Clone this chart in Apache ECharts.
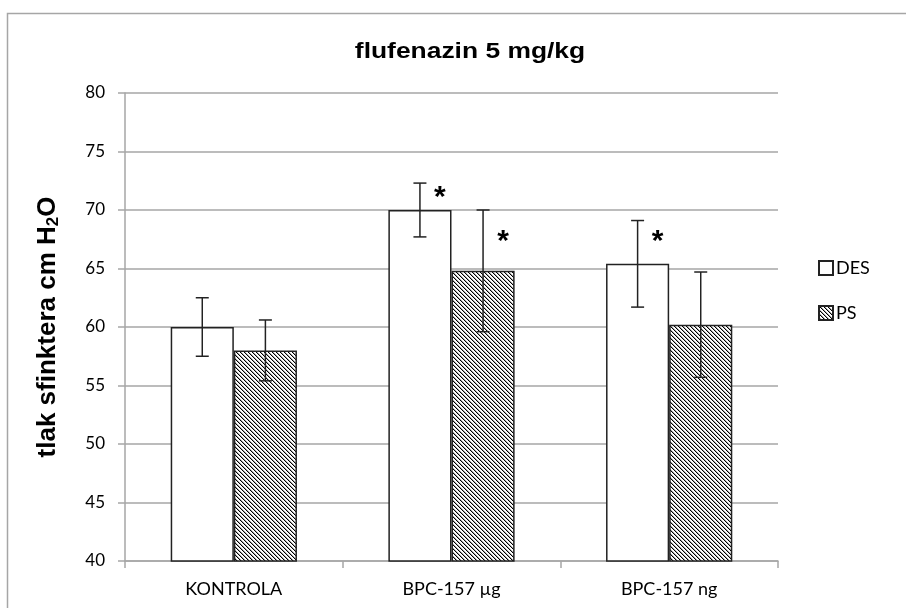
<!DOCTYPE html>
<html><head><meta charset="utf-8">
<script src="https://cdn.jsdelivr.net/npm/echarts@6/dist/echarts.min.js"></script>
<style>html,body{margin:0;padding:0;background:#fff}#c{width:906px;height:608px}</style>
</head><body><div id="c"></div>
<script>
const categories = ['KONTROLA', 'BPC-157 µg', 'BPC-157 ng'];
const desValues = [60.0, 70.0, 65.4];
const desErrors = [2.5, 2.3, 3.7];
const psValues = [58.0, 64.8, 60.2];
const psErrors = [2.6, 5.2, 4.5];
// significance marks: [category index, series index (0 DES, 1 PS), value level]
const stars = [[1, 0, 71.45], [1, 1, 67.7], [2, 0, 67.7]];
const yTicks = [40, 45, 50, 55, 60, 65, 70, 75, 80];

function hatch() {
  const c = document.createElement('canvas');
  c.width = 4; c.height = 4;
  const g = c.getContext('2d');
  g.fillStyle = '#fff'; g.fillRect(0, 0, 4, 4);
  for (let i = 0; i < 4; i++) {
    g.fillStyle = '#000'; g.fillRect(i, i, 1, 1);
    g.fillStyle = '#a8a8a8'; g.fillRect((i + 1) % 4, i, 1, 1);
  }
  return c;
}
const BARW = 0.29;
const chart = echarts.init(document.getElementById('c'));
function errSeries(vals, errs, side) {
  return {
    type: 'custom', silent: true, z: 5,
    data: vals.map((v, i) => [i, v, errs[i]]),
    renderItem: function (params, api) {
      const cat = api.value(0), v = api.value(1), e = api.value(2);
      const band = api.size([1, 0])[0];
      const x = api.coord([cat, v])[0] + side * band * BARW / 2;
      const yt = api.coord([cat, v + e])[1];
      const yb = api.coord([cat, v - e])[1];
      const st = { stroke: '#222', lineWidth: 1.5 };
      return { type: 'group', children: [
        { type: 'line', shape: { x1: x, y1: yt, x2: x, y2: yb }, style: st },
        { type: 'line', shape: { x1: x - 6.5, y1: yt, x2: x + 6.5, y2: yt }, style: st },
        { type: 'line', shape: { x1: x - 6.5, y1: yb, x2: x + 6.5, y2: yb }, style: st }
      ]};
    }
  };
}
chart.setOption({
  animation: false,
  graphic: [
    { type: 'rect', left: 5, top: 11, shape: { width: 1000, height: 1000 },
      style: { fill: 'none', stroke: '#a6a6a6', lineWidth: 1.5 }, silent: true },
    { type: 'text', x: 470, y: 52, scaleX: 1.2, silent: true,
      style: { text: 'flufenazin 5 mg/kg', fill: '#000', font: 'bold 22px "Liberation Sans"', align: 'center', verticalAlign: 'middle' } }
  ],
  grid: { left: 125, right: 128, top: 93, bottom: 47 },
  legend: { orient: 'vertical', left: 813, top: 254, itemGap: 27, itemWidth: 14, itemHeight: 14,
    icon: 'rect', data: ['DES', 'PS'],
    textStyle: { fontFamily: 'Lato', fontSize: 18, color: '#000', padding: [0, 0, 0, -2] } },
  xAxis: { type: 'category', data: categories,
    axisLine: { lineStyle: { color: '#a6a6a6', width: 1.5 } },
    axisTick: { show: true, length: 7, lineStyle: { color: '#a6a6a6', width: 1.5 } },
    axisLabel: { margin: 19, fontFamily: 'Lato', fontSize: 18, color: '#000' } },
  yAxis: { type: 'value', min: yTicks[0], max: yTicks[yTicks.length - 1], interval: 5,
    name: '{a|tlak sfinktera cm H}{s|2}{a|O}', nameLocation: 'middle', nameGap: 63,
    nameTextStyle: { rich: {
      a: { fontFamily: 'Liberation Sans', fontWeight: 'bold', fontSize: 26, color: '#000' },
      s: { fontFamily: 'Liberation Sans', fontWeight: 'bold', fontSize: 17, color: '#000', padding: [12, 0, 0, 0] } } },
    axisLine: { show: true, lineStyle: { color: '#a6a6a6', width: 1.5 } },
    axisTick: { show: true, length: 7, lineStyle: { color: '#a6a6a6', width: 1.5 } },
    splitLine: { lineStyle: { color: '#a6a6a6', width: 1.5 } },
    axisLabel: { margin: 20, fontFamily: 'Lato', fontSize: 17, color: '#000' } },
  series: [
    { name: 'DES', type: 'bar', data: desValues, barWidth: (BARW * 100) + '%', barGap: '0%',
      itemStyle: { color: '#fff', borderColor: '#222', borderWidth: 1.5 } },
    { name: 'PS', type: 'bar', data: psValues, barWidth: (BARW * 100) + '%', barGap: '0%',
      itemStyle: { color: { image: hatch(), repeat: 'repeat' }, borderColor: '#222', borderWidth: 1.5 } },
    errSeries(desValues, desErrors, -1),
    errSeries(psValues, psErrors, 1),
    { type: 'custom', silent: true, z: 6, data: stars,
      renderItem: function (params, api) {
        const cat = api.value(0), s = api.value(1), v = api.value(2);
        const band = api.size([1, 0])[0];
        const p = api.coord([cat, v]);
        const x = p[0] + (s === 0 ? -1 : 1) * band * BARW / 2 + 20;
        return { type: 'text', x: x, y: p[1] + 5,
          style: { text: '*', fill: '#000', font: 'bold 30px "Liberation Sans"', align: 'center', verticalAlign: 'middle' } };
      } }
  ]
});
</script></body></html>
